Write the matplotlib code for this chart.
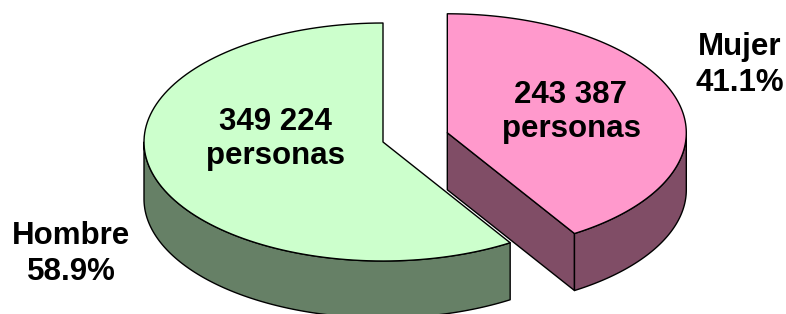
import numpy as np
import matplotlib.pyplot as plt
from matplotlib.patches import Polygon

plt.rcParams["font.family"] = ["Liberation Sans", "DejaVu Sans"]

labels = ["Hombre", "Mujer"]
personas = [349224, 243387]
top_colors = ["#CCFFCC", "#FF99CC"]
side_colors = ["#668066", "#804D66"]
explode = [0.0, 0.28]

# pie geometry in pixels
cx, cy = 383, 142
rx, ry = 239, 119
depth = 57

total = sum(personas)
fracs = [v / total for v in personas]
pcts = [f"{100 * f:.1f}%" for f in fracs]


def pt(c, t, z=0):
    r = np.radians(t)
    return (c[0] + rx * np.cos(r), c[1] - ry * np.sin(r) + z)


def arc(c, a0, a1, z=0, n=120):
    ts = np.linspace(a0, a1, n)
    return [pt(c, t, z) for t in ts]


fig = plt.figure(figsize=(7.86, 3.14), dpi=100)
ax = fig.add_axes([0, 0, 1, 1])
ax.set_xlim(0, 786)
ax.set_ylim(314, 0)
ax.axis("off")

# slice angles, starting at the top and going counter-clockwise
slices = []
a = 90.0
for i, f in enumerate(fracs):
    a0, a1 = a, a + 360 * f
    mid = np.radians((a0 + a1) / 2)
    c = (cx + explode[i] * rx * np.cos(mid), cy - explode[i] * ry * np.sin(mid))
    slices.append((i, a0, a1, c))
    a = a1

# back slices first
for i, a0, a1, c in sorted(slices, key=lambda s: s[3][1]):
    kw = dict(edgecolor="black", linewidth=1.0, joinstyle="round")
    # radial faces
    for ang, nrm in ((a0, a0 - 90), (a1, a1 + 90)):
        if np.sin(np.radians(nrm)) < -1e-6:
            quad = [c, pt(c, ang), pt(c, ang, depth), (c[0], c[1] + depth)]
            ax.add_patch(Polygon(quad, closed=True, facecolor=side_colors[i], **kw))
    # curved front side
    for lo, hi in ((180, 360), (540, 720)):
        s0, s1 = max(a0, lo), min(a1, hi)
        if s1 > s0:
            top = arc(c, s0, s1)
            bot = arc(c, s0, s1, depth)[::-1]
            ax.add_patch(Polygon(top + bot, closed=True, facecolor=side_colors[i], **kw))
    # top face
    ax.add_patch(Polygon([c] + arc(c, a0, a1), closed=True, facecolor=top_colors[i], **kw))

txt = dict(fontsize=22.5, fontweight="bold", ha="center", va="center")
inner_pos = [(275, 139), (571, 112)]
outer_pos = [(71, 254), (740, 65)]
for i in range(len(labels)):
    num = f"{personas[i]:,}".replace(",", " ")
    ax.text(*inner_pos[i], f"{num}\npersonas", linespacing=1.15, **txt)
    ax.text(*outer_pos[i], f"{labels[i]}\n{pcts[i]}", linespacing=1.3, **txt)

fig.savefig("out.png", dpi=100)
